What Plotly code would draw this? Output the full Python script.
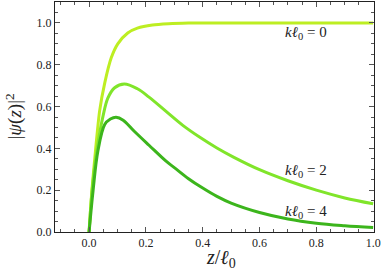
import plotly.graph_objects as go

z0 = [0, 0.01, 0.023, 0.037, 0.055, 0.078, 0.101, 0.136, 0.17, 0.223, 0.28, 0.35, 0.45, 0.6, 0.8, 1.0]
v0 = [0, 0.2, 0.395, 0.578, 0.712, 0.833, 0.9, 0.952, 0.975, 0.99, 0.996, 0.999, 1.0, 1.0, 1.0, 1.0]

z2 = [0, 0.01, 0.027, 0.049, 0.066, 0.09, 0.124, 0.17, 0.211, 0.27, 0.33, 0.39, 0.45, 0.51, 0.6, 0.7, 0.8, 0.9, 1.0]
v2 = [0, 0.19, 0.387, 0.554, 0.64, 0.69, 0.708, 0.685, 0.645, 0.578, 0.51, 0.453, 0.402, 0.357, 0.298, 0.245, 0.2, 0.163, 0.135]

z4 = [0, 0.014, 0.031, 0.055, 0.075, 0.095, 0.12, 0.159, 0.211, 0.27, 0.3, 0.35, 0.4, 0.45, 0.5, 0.6, 0.7, 0.8, 0.9, 1.0]
v4 = [0, 0.197, 0.387, 0.514, 0.54, 0.549, 0.535, 0.482, 0.415, 0.34, 0.308, 0.255, 0.21, 0.17, 0.138, 0.093, 0.062, 0.042, 0.03, 0.021]

labels = ["<i>k</i><i>ℓ</i><sub>0</sub> = 0", "<i>k</i><i>ℓ</i><sub>0</sub> = 2", "<i>k</i><i>ℓ</i><sub>0</sub> = 4"]
label_x = [0.764, 0.764, 0.764]
label_y = [0.954, 0.292, 0.097]
colors = ["#bdee22", "#80e52a", "#3cb51c"]
smooth = [0.7, 1.0, 1.0]

x_ticks = [0.0, 0.2, 0.4, 0.6, 0.8, 1.0]
y_ticks = [0.0, 0.2, 0.4, 0.6, 0.8, 1.0]

fig = go.Figure()
for zs, vs, c, s in zip([z0, z2, z4], [v0, v2, v4], colors, smooth):
    fig.add_trace(go.Scatter(x=zs, y=vs, mode="lines",
                             line=dict(color=c, width=3, shape="spline", smoothing=s),
                             showlegend=False))

font = "Liberation Serif"
for t, lx, ly in zip(labels, label_x, label_y):
    fig.add_annotation(x=lx, y=ly, xref="x", yref="y", text=t, showarrow=False,
                       font=dict(family=font, size=15, color="#222"))

fig.add_annotation(x=0.52, y=-0.115, xref="paper", yref="paper", yanchor="middle",
                   text="<i>z</i>/<i>ℓ</i><sub>0</sub>", showarrow=False,
                   font=dict(family=font, size=20, color="#222"))
fig.add_annotation(x=-0.13, y=0.5, xref="paper", yref="paper", xanchor="center",
                   text="|<i>ψ</i>(<i>z</i>)|<sup>2</sup>", showarrow=False, textangle=-90,
                   font=dict(family=font, size=19, color="#222"))

axis_common = dict(showgrid=False, zeroline=False, showline=True, linecolor="#222",
                   linewidth=1, mirror="ticks", ticks="inside", ticklen=5, tickcolor="#555",
                   tickfont=dict(family=font, size=12, color="#222"), tickformat=".1f",
                   ticklabeloverflow="allow",
                   minor=dict(ticks="inside", ticklen=3, tickcolor="#555", dtick=0.05))

fig.update_xaxes(range=[-0.12, 1.003], tickvals=x_ticks, **axis_common)
fig.update_yaxes(range=[0, 1.1], tickvals=y_ticks, **axis_common)

fig.update_layout(width=382, height=272, margin=dict(l=55, r=6, t=1, b=40),
                  plot_bgcolor="white", paper_bgcolor="white")

fig.write_html("out.html", config={"displayModeBar": False},
               post_script="document.body.style.margin='0';")
